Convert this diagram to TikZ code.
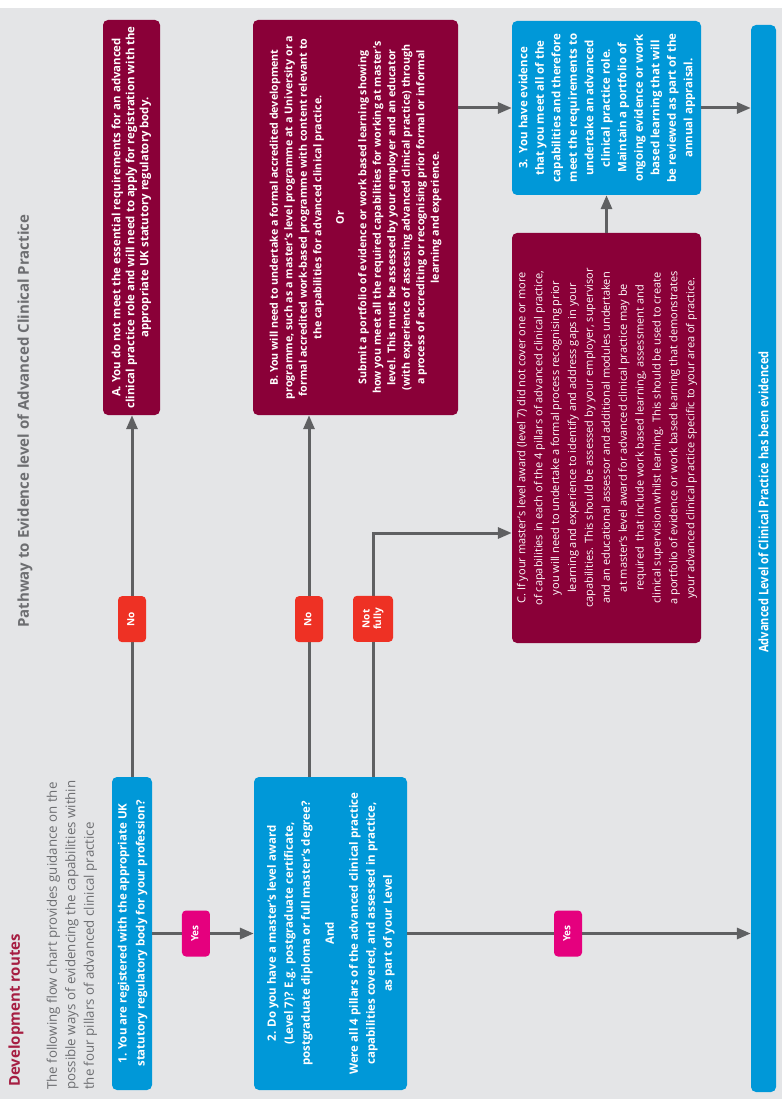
\documentclass[tikz,border=0pt]{standalone}
\usepackage{fontspec}
\setmainfont{Open Sans}
\newfontfamily\condfont[FakeStretch=0.85]{Open Sans}
\usepackage{graphicx}
\usetikzlibrary{arrows.meta}
\definecolor{bgcol}{RGB}{228,229,231}
\definecolor{nhsblue}{RGB}{0,152,216}
\definecolor{boxred}{RGB}{138,0,56}
\definecolor{lblred}{RGB}{238,49,36}
\definecolor{lblpink}{RGB}{229,0,126}
\definecolor{linegrey}{RGB}{95,96,98}
\definecolor{titlegrey}{RGB}{109,110,113}
\definecolor{devred}{RGB}{166,30,66}
\newcommand{\vlines}[1]{\rotatebox{90}{\begin{tabular}{@{}c@{}}#1\end{tabular}}}
\newcommand{\fsz}[2]{\fontsize{#1}{#2}\selectfont}
\tikzset{
  box/.style={rounded corners=5pt, inner sep=0pt, text=white},
  bluebox/.style={box, fill=nhsblue},
  redbox/.style={box, fill=boxred},
  conn/.style={draw=linegrey, line width=3pt},
  arr/.style={conn, -{Triangle[length=14pt,width=11pt]}},
  lbl/.style={rounded corners=4pt, text=white, font=\bfseries\fsz{10}{11.5}, minimum width=28pt, minimum height=46pt, inner sep=0pt},
  nolbl/.style={lbl, fill=lblred},
  yeslbl/.style={lbl, fill=lblpink},
  freetext/.style={rotate=90, inner sep=0pt, anchor=west}
}
\begin{document}
\begin{tikzpicture}[x=1pt, y=-1pt]
\fill[bgcol] (0,0) rectangle (782,1099);
\fill[white] (0,0) rectangle (782,8);
\useasboundingbox (0,0) rectangle (782,1099);

% free texts
\node[freetext, text=devred, font=\bfseries\fsz{15}{17}] (devtitle) at (16,1087) {Development routes};
\node[freetext, text=titlegrey, align=left, font=\fsz{13.3}{18.5}] (intro) at (72,1090)
  {The following flow chart provides guidance on the\\possible ways of evidencing the capabilities within\\the four pillars of advanced clinical practice};
\node[freetext, text=titlegrey, font=\bfseries\fsz{15}{17}] (maintitle) at (25,628) {Pathway to Evidence level of Advanced Clinical Practice};

% boxes
\node[redbox, minimum width=57pt, minimum height=395pt, font=\bfseries\fsz{11.4}{14}] (bA) at (131.5,217.5)
  {\vlines{A. You do not meet the essential requirements for an advanced\\clinical practice role and will need to apply for registration with the\\appropriate UK statutory regulatory body.}};
\node[redbox, minimum width=205pt, minimum height=395pt, font=\bfseries\fsz{10.7}{14.5}] (bB) at (355.5,217.5)
  {\vlines{B. You will need to undertake a formal accredited development\\programme, such as a master's level programme at a University or a\\formal accredited work-based programme with content relevant to\\the capabilities for advanced clinical practice.\\[8pt]Or\\[8pt]Submit a portfolio of evidence or work based learning showing\\how you meet all the required capabilities for working at master's\\level. This must be assessed by your employer and an educator\\(with experience of assessing advanced clinical practice) through\\a process of accrediting or recognising prior formal or informal\\learning and experience.}};
\node[bluebox, minimum width=189pt, minimum height=174pt, font=\bfseries\fsz{11.5}{16.5}] (b3) at (606.5,108)
  {\vlines{3.\ \ You have evidence\\that you meet all of the\\capabilities and therefore\\meet the requirements to\\undertake an advanced\\clinical practice role.\\Maintain a portfolio of\\ongoing evidence or work\\based learning that will\\be reviewed as part of the\\annual appraisal.}};
\node[redbox, minimum width=189pt, minimum height=410pt, font=\fsz{11}{16.9}] (bC) at (606.5,438)
  {\vlines{C. If your master's level award (level 7) did not cover one or more\\of capabilities in each of the 4 pillars of advanced clinical practice,\\you will need to undertake a formal process recognising prior\\learning and experience to identify and address gaps in your\\capabilities. This should be assessed by your employer, supervisor\\and an educational assessor and additional modules undertaken\\at master's level award for advanced clinical practice may be\\required\ \ that include work based learning, assessment and\\clinical supervision whilst learning. This should be used to create\\a portfolio of evidence or work based learning that demonstrates\\your advanced clinical practice specific to your area of practice.}};
\node[bluebox, minimum width=40pt, minimum height=313pt, font=\bfseries\fsz{11.5}{18}] (b1) at (132,933.5)
  {\vlines{1. You are registered with the appropriate UK\\statutory regulatory body for your profession?}};
\node[bluebox, minimum width=153pt, minimum height=313pt, font=\bfseries\fsz{11.5}{17}] (b2) at (330.5,933.5)
  {\vlines{2. Do you have a master's level award\\(Level 7)? E.g. postgraduate certificate,\\postgraduate diploma or full master's degree?\\[7pt]And\\[7pt]Were all 4 pillars of the advanced clinical practice\\capabilities covered, and assessed in practice,\\as part of your Level}};
\node[bluebox, minimum width=25pt, minimum height=1067pt] (bar) at (763.5,558.5) {};
\node[freetext, anchor=center, text=white, font=\condfont\bfseries\fsz{13}{15}] (bartext) at (763.5,502) {Advanced Level of Clinical Practice has been evidenced};

% connectors
\draw[arr] (b1.north) -- node[nolbl, pos=0.436] (no1) {\vlines{No}} (b1.north |- bA.south);
\draw[arr] (b1.east) -- node[yeslbl, pos=0.431] (yes1) {\vlines{Yes}} (b2.west);
\coordinate (n2) at ([xshift=-21.5pt]b2.north);
\draw[arr] (n2) -- node[nolbl, pos=0.436] (no2) {\vlines{No}} (n2 |- bB.south);
\coordinate (nf) at ([xshift=42.5pt]b2.north);
\coordinate (cIn) at ([yshift=-95pt]bC.west);
\draw[arr] (nf) -- node[nolbl, pos=0.648, minimum width=40pt] (nf1) {\vlines{Not\\fully}} (nf |- cIn) -- (cIn);
\draw[arr] (b2.east) -- node[yeslbl, pos=0.468] (yes2) {\vlines{Yes}} (b2.east -| bar.west);
\draw[arr] (bB.east |- b3.west) -- (b3.west);
\draw[arr] (b3.east) -- (b3.east -| bar.west);
\draw[arr] (bC.north) -- (b3.south);
\end{tikzpicture}
\end{document}
